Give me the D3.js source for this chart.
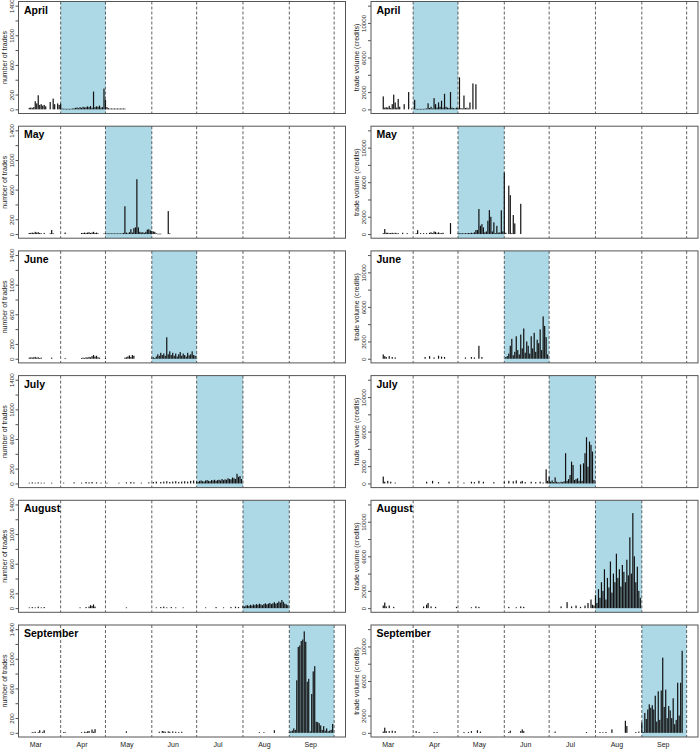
<!DOCTYPE html>
<html>
<head>
<meta charset="utf-8">
<script src="https://cdn.jsdelivr.net/npm/d3@7"></script>
<style>
  body { margin: 0; background: #fff; }
  svg { display: block; font-family: "Liberation Sans", Arial, sans-serif; }
</style>
</head>
<body>
<svg id="chart" width="700" height="749"></svg>
<script>
// day numbers count from 1 March (day 0 = Mar 1, day 31 = Apr 1 ...)
const monthLabels = ["Mar", "Apr", "May", "Jun", "Jul", "Aug", "Sep"];
const monthMid = [14, 45, 75, 106, 136, 167, 198];
const monthStarts = [31, 61, 92, 122, 153, 184, 214];
const panelTitles = ["April", "May", "June", "July", "August", "September"];

const tradeTicks = [0, 200, 400, 600, 800, 1000, 1200, 1400];
const tradeLabels = [0, 200, 600, 1000, 1400];
const volumeTicks = [0, 2000, 4000, 6000, 8000, 10000, 12000];
const volumeLabels = [0, 2000, 6000, 10000];

// [day, number of trades] / [day, trade volume]
const tradesApr = [[10,20],[11,25],[12,20],[13,30],[14,110],[15,80],[16,190],[17,60],[18,70],[19,50],[20,60],[21,40],
  [24,100],[26,145],[27,70],[29,80],[30,60],[31,75],[32,10],[33,8],[34,8],[35,6],[36,8],[37,6],[38,8],[39,10],
  [40,15],[41,20],[42,25],[43,15],[44,30],[45,20],[46,35],[47,25],[48,30],[49,40],[50,30],[51,45],[52,20],
  [53,240],[54,30],[55,40],[56,35],[57,50],[58,25],[59,30],[60,280],[61,130],[62,30],[63,15],[64,10],[65,12],
  [66,10],[67,12],[68,10],[69,12],[70,10],[71,12],[72,10],[73,12],[74,10]];
const volumeApr = [[11,1500],[12,200],[13,250],[14,200],[15,400],[16,150],[17,600],[18,1700],[19,800],[20,200],[21,1200],[22,300],
  [25,600],[28,2000],[30,100],[32,1100],[33,60],[34,50],[35,60],[36,50],[37,60],[38,50],[39,80],[40,100],
  [41,700],[42,150],[43,300],[44,100],[45,1300],[46,600],[47,200],[48,800],[49,300],[50,1000],[51,200],[52,1800],
  [53,300],[54,200],[55,150],[56,2000],[57,200],[58,150],[59,100],[60,200],[61,150],[62,3700],[63,150],[64,100],
  [65,1600],[66,150],[67,200],[68,100],[69,800],[71,3000],[73,2900]];

const tradesMay = [[10,15],[11,15],[12,20],[13,15],[14,30],[15,20],[16,25],[17,15],[18,10],[20,15],[24,10],[25,55],[26,10],
  [34,20],[45,15],[46,15],[47,20],[48,15],[49,20],[50,25],[51,15],[52,20],[53,30],[54,15],[55,20],[56,10],
  [60,8],[61,8],[62,8],[63,8],[64,8],[65,8],[66,8],[67,8],[68,8],[69,8],[70,8],[71,8],[72,8],[73,15],[74,375],
  [75,20],[76,10],[77,25],[78,65],[79,20],[80,80],[81,90],[82,740],[83,90],[84,30],[85,20],[86,25],[87,15],[88,30],
  [89,60],[90,65],[91,50],[92,40],[93,35],[94,30],[95,10],[96,5],[97,5],[98,5],[103,310],[104,10]];
const volumeMay = [[11,100],[12,580],[13,150],[14,150],[15,100],[16,120],[17,150],[18,80],[19,150],[20,80],[21,100],[24,150],[27,100],
  [33,100],[34,450],[36,100],[38,100],[40,100],[42,150],[43,200],[44,100],[45,300],[46,250],[47,100],[48,200],[49,100],[50,100],[51,150],
  [56,1270],[61,80],[62,80],[63,100],[64,80],[65,80],[66,100],[67,80],[68,120],[69,100],[70,150],[71,100],[72,200],[73,460],
  [74,460],[75,2900],[76,960],[77,1150],[78,770],[79,200],[80,300],[81,1540],[82,2770],[83,2000],[84,300],[85,1350],[86,100],
  [87,950],[88,150],[89,200],[90,2750],[91,300],[92,7100],[93,150],[95,5600],[96,4500],[97,100],[98,2200],[99,1230],[103,3500]];

const tradesJun = [[10,15],[11,20],[12,15],[13,20],[14,25],[15,15],[16,20],[17,10],[18,15],[25,15],[34,10],
  [45,10],[46,15],[47,10],[48,20],[49,15],[50,25],[51,20],[52,35],[53,50],[54,30],[55,40],[56,20],[57,15],[61,10],
  [74,15],[75,20],[76,30],[77,45],[78,25],[79,50],[80,40],
  [92,15],[93,20],[94,10],[95,30],[96,60],[97,40],[98,80],[99,50],[100,70],[101,40],[102,290],[103,60],[104,100],
  [105,50],[106,80],[107,40],[108,70],[109,30],[110,60],[111,90],[112,40],[113,70],[114,50],[115,30],[116,80],
  [117,45],[118,60],[119,100],[120,50],[121,40]];
const volumeJun = [[11,500],[12,300],[13,200],[15,300],[17,200],[19,150],[39,200],[42,300],[45,150],[48,350],[50,250],[52,200],
  [66,150],[70,200],[72,150],[75,1500],[77,200],
  [93,200],[94,300],[95,600],[96,1500],[97,2300],[98,400],[99,800],[100,2600],[101,1000],[102,500],[103,2800],[104,1200],
  [105,3500],[106,700],[107,2000],[108,1500],[109,600],[110,2600],[111,1200],[112,3000],[113,800],[114,2200],[115,1800],
  [116,3400],[117,1000],[118,4900],[119,3800],[120,2500],[121,500]];

const tradesJul = [[10,10],[12,15],[14,10],[16,15],[18,10],[20,10],[25,10],[33,10],[40,15],[45,10],[48,20],[50,15],[52,20],
  [55,15],[58,10],[62,10],[70,10],[75,15],[78,20],[80,15],[85,10],[90,15],[93,20],[95,25],[98,20],[100,25],[102,30],
  [104,20],[106,25],[108,30],[110,20],[112,25],[114,30],[116,25],[118,35],[120,40],
  [122,30],[123,20],[124,35],[125,40],[126,30],[127,25],[128,40],[129,45],[130,35],[131,30],[132,45],[133,40],[134,50],
  [135,35],[136,45],[137,50],[138,40],[139,60],[140,45],[141,55],[142,50],[143,70],[144,60],[145,55],[146,80],[147,70],
  [148,60],[149,130],[150,90],[151,100],[152,60]];
const volumeJul = [[11,800],[12,200],[14,300],[16,200],[19,100],[40,200],[44,300],[48,150],[55,200],[65,100],[70,200],[72,150],
  [75,300],[78,200],[85,150],[92,200],[95,300],[98,250],[100,350],[103,200],[104,300],[106,150],[110,200],[113,150],[116,200],[118,100],
  [120,1630],[121,300],[122,780],[123,200],[124,350],[125,150],[126,700],[127,200],[128,150],[129,100],[130,200],[131,150],
  [132,250],[133,3500],[134,300],[135,500],[136,970],[137,2520],[138,2130],[139,400],[140,500],[141,600],[142,300],[143,2200],
  [144,300],[145,2330],[146,3500],[147,5350],[148,1940],[149,4850],[150,4460],[151,3690],[152,400]];

const tradesAug = [[10,10],[12,15],[14,10],[16,20],[18,10],[20,15],[44,10],[48,15],[50,20],[51,40],[52,30],[53,50],[54,20],
  [75,10],[95,10],[98,15],[100,20],[102,10],[105,15],[108,10],[113,10],[128,10],[135,15],[140,10],[145,15],[148,20],[150,15],
  [153,30],[154,20],[155,35],[156,40],[157,30],[158,45],[159,35],[160,50],[161,40],[162,55],[163,45],[164,60],[165,50],
  [166,40],[167,55],[168,65],[169,50],[170,60],[171,70],[172,55],[173,65],[174,80],[175,60],[176,70],[177,90],[178,75],
  [179,110],[180,85],[181,60],[182,50],[183,40]];
const volumeAug = [[11,300],[12,650],[13,200],[15,300],[18,150],[38,200],[40,400],[41,600],[43,200],[46,150],[60,150],[70,100],
  [73,200],[75,150],[95,150],[100,100],[103,200],[105,150],[130,200],[134,700],[137,200],[140,300],[143,150],[146,300],
  [148,600],[150,1000],[151,400],[152,300],
  [153,1500],[154,600],[155,2200],[156,1200],[157,3000],[158,2000],[159,4500],[160,1000],[161,3500],[162,2400],[163,5400],
  [164,1800],[165,4000],[166,3000],[167,6300],[168,3500],[169,4500],[170,2500],[171,5000],[172,4200],[173,3000],[174,5600],
  [175,3800],[176,8200],[177,4000],[178,11000],[179,6000],[180,3000],[181,4800],[182,2000],[183,1200]];

const tradesSep = [[12,10],[13,8],[14,15],[16,10],[17,35],[19,15],[20,35],[33,10],[34,10],[45,10],[47,15],[48,10],[49,20],
  [50,25],[52,45],[53,15],[54,50],[75,20],[97,15],[99,25],[100,20],[101,15],[103,20],[104,15],[106,20],[108,15],[110,10],
  [112,15],[164,10],[167,10],[174,35],
  [184,10],[185,20],[186,30],[187,60],[188,40],[189,710],[190,1160],[191,1180],[192,1240],[193,1260],[194,1370],[195,1230],
  [196,690],[197,730],[198,20],[199,525],[200,830],[201,900],[202,150],[203,145],[204,130],[205,100],[206,40],[207,90],
  [208,30],[209,60],[210,20],[211,30],[212,40],[213,120]];
const volumeSep = [[11,150],[12,600],[13,200],[15,200],[17,250],[19,200],[33,200],[35,100],[45,100],[47,100],[65,100],[68,100],
  [70,200],[74,300],[76,150],[95,100],[96,250],[103,200],[104,400],[105,200],[126,150],[147,100],[156,100],[158,80],[160,100],
  [164,400],[173,1400],[174,800],[180,100],[182,150],[184,1200],
  [185,100],[186,2300],[187,1600],[188,2700],[189,3300],[190,2900],[191,3200],[192,2700],[193,4300],[194,1300],[195,4800],
  [196,1500],[197,4900],[198,8700],[199,3000],[200,5000],[201,1700],[202,3100],[203,2600],[204,1700],[205,4000],[206,1000],
  [207,1500],[208,5800],[209,2000],[210,5800],[211,9500]];

const tradesRows = [tradesApr, tradesMay, tradesJun, tradesJul, tradesAug, tradesSep];
const volumeRows = [volumeApr, volumeMay, volumeJun, volumeJul, volumeAug, volumeSep];

// layout
const svg = d3.select("#chart");
const panelW = 327, panelH = 112;
const colLeft = [18.5, 371];
const rowTop = i => 1.5 + i * 124.7;

const x = d3.scaleLinear().domain([2.8, 221.6]).range([0, panelW]);
const yTrades = d3.scaleLinear().domain([-56, 1456]).range([panelH, 0]);
const yVolume = d3.scaleLinear().domain([-480, 12480]).range([panelH, 0]);
const barW = x(0.8) - x(0);

function drawPanel(left, top, data, y, ticks, labels, ylab, title, hl, showX) {
    const g = svg.append("g").attr("transform", "translate(" + left + "," + top + ")");

    // highlighted month
    g.append("rect")
        .attr("x", x(hl[0]))
        .attr("y", 0)
        .attr("width", x(hl[1]) - x(hl[0]))
        .attr("height", panelH)
        .attr("fill", "#add8e6");

    // month borders
    g.selectAll(".mline")
        .data(monthStarts)
        .enter()
        .append("line")
        .attr("x1", d => x(d)).attr("x2", d => x(d))
        .attr("y1", 0).attr("y2", panelH)
        .attr("stroke", "#3a3a3a")
        .attr("stroke-width", 0.8)
        .attr("stroke-dasharray", "3,2");

    // daily bars
    g.selectAll(".bar")
        .data(data)
        .enter()
        .append("rect")
        .attr("x", d => x(d[0]) - barW / 2)
        .attr("width", barW)
        .attr("y", d => y(d[1]))
        .attr("height", d => Math.max(0.6, y(0) - y(d[1])))
        .attr("fill", "#111");

    // frame
    g.append("rect")
        .attr("width", panelW).attr("height", panelH)
        .attr("fill", "none")
        .attr("stroke", "#555")
        .attr("stroke-width", 1);

    g.append("text")
        .attr("x", 5.5).attr("y", 12)
        .attr("font-size", "10.5px")
        .attr("font-weight", "bold")
        .text(title);

    // y axis
    const yAxis = g.append("g")
        .call(d3.axisLeft(y).tickValues(ticks).tickSize(3)
            .tickFormat(d => labels.includes(d) ? d : ""));
    yAxis.select(".domain").remove();
    yAxis.selectAll("line").attr("stroke", "#555");
    yAxis.selectAll("text")
        .attr("x", null).attr("dy", null)
        .attr("text-anchor", "middle")
        .attr("transform", "translate(-4.8,0) rotate(-90)")
        .attr("font-size", "6.2px")
        .attr("font-family", "Liberation Sans, Arial, sans-serif")
        .attr("fill", "#222");

    g.append("text")
        .attr("transform", "translate(-12," + (panelH / 2) + ") rotate(-90)")
        .attr("text-anchor", "middle")
        .attr("font-size", "7px")
        .attr("fill", "#222")
        .text(ylab);

    if (showX) {
        const xAxis = g.append("g")
            .attr("transform", "translate(0," + panelH + ")")
            .call(d3.axisBottom(x).tickValues(monthMid).tickSize(0)
                .tickFormat((d, i) => monthLabels[i]));
        xAxis.select(".domain").remove();
        xAxis.selectAll("text")
            .attr("y", 10).attr("dy", null)
            .attr("font-size", "7px")
            .attr("font-family", "Liberation Sans, Arial, sans-serif")
            .attr("fill", "#222");
    }
}

for (let i = 0; i < 6; i++) {
    const hl = [monthStarts[i], monthStarts[i + 1]];
    const last = i === 5;
    drawPanel(colLeft[0], rowTop(i), tradesRows[i], yTrades, tradeTicks, tradeLabels,
        "number of trades", panelTitles[i], hl, last);
    drawPanel(colLeft[1], rowTop(i), volumeRows[i], yVolume, volumeTicks, volumeLabels,
        "trade volume (credits)", panelTitles[i], hl, last);
}
</script>
</body>
</html>
